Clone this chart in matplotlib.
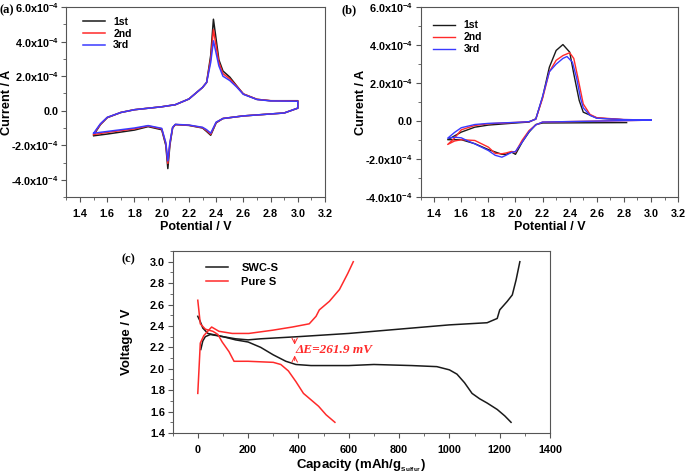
import numpy as np
import matplotlib.pyplot as plt
from matplotlib.ticker import MultipleLocator, FuncFormatter

plt.rcParams['font.family'] = ['Liberation Sans', 'DejaVu Sans']
plt.rcParams['font.weight'] = 'bold'
plt.rcParams['mathtext.fontset'] = 'custom'
plt.rcParams['mathtext.rm'] = 'Liberation Sans:bold'
plt.rcParams['mathtext.default'] = 'rm'

# (a) CV, SWC-S : a closed loop per cycle (anodic branch then cathodic branch)
a_up_v = [1.50, 1.55, 1.60, 1.70, 1.80, 2.00, 2.10, 2.20, 2.30, 2.33, 2.36, 2.38, 2.42, 2.45, 2.50, 2.55, 2.60, 2.70, 2.80, 3.00]
a_up_1 = [-1.40, -0.80, -0.40, -0.10, 0.06, 0.23, 0.35, 0.68, 1.35, 1.64, 3.20, 5.30, 2.95, 2.30, 1.95, 1.45, 0.97, 0.66, 0.58, 0.58]
a_up_2 = [-1.35, -0.78, -0.39, -0.10, 0.06, 0.23, 0.35, 0.68, 1.35, 1.64, 3.00, 4.70, 2.80, 2.15, 1.85, 1.42, 0.97, 0.66, 0.58, 0.56]
a_up_3 = [-1.30, -0.75, -0.38, -0.10, 0.06, 0.23, 0.35, 0.68, 1.35, 1.64, 2.80, 4.05, 2.60, 2.00, 1.75, 1.38, 0.95, 0.65, 0.57, 0.55]
a_dn_v = [3.00, 2.90, 2.60, 2.45, 2.40, 2.36, 2.33, 2.30, 2.20, 2.10, 2.08, 2.06, 2.045, 2.03, 2.00, 1.90, 1.80, 1.60, 1.50]
a_dn_1 = [0.15, -0.13, -0.30, -0.45, -0.70, -1.42, -1.20, -1.00, -0.85, -0.80, -1.00, -2.00, -3.35, -2.00, -1.10, -0.92, -1.12, -1.35, -1.45]
a_dn_2 = [0.15, -0.13, -0.30, -0.45, -0.68, -1.36, -1.15, -0.98, -0.84, -0.80, -0.98, -1.90, -3.05, -1.90, -1.05, -0.88, -1.05, -1.25, -1.38]
a_dn_3 = [0.15, -0.13, -0.30, -0.45, -0.66, -1.30, -1.10, -0.96, -0.83, -0.79, -0.96, -1.85, -2.90, -1.85, -1.02, -0.86, -1.00, -1.20, -1.30]

# (b) CV, pure S
b1_v = [2.82, 2.20, 2.15, 2.10, 2.05, 2.00, 1.97, 1.93, 1.90, 1.80, 1.70, 1.60, 1.50,
        1.60, 1.70, 1.80, 2.00, 2.10, 2.15, 2.20, 2.25, 2.30, 2.35, 2.40, 2.43, 2.47, 2.50, 2.60, 2.80, 3.00]
b1_i = [-0.08, -0.10, -0.18, -0.58, -1.10, -1.75, -1.63, -1.75, -1.75, -1.50, -1.19, -0.98, -0.98,
        -0.58, -0.32, -0.21, -0.10, -0.05, 0.12, 1.26, 2.84, 3.72, 4.03, 3.63, 2.49, 1.09, 0.47, 0.16, 0.07, 0.07]
b2_v = [3.00, 2.20, 2.15, 2.10, 2.05, 2.00, 1.97, 1.93, 1.90, 1.85, 1.80, 1.70, 1.60, 1.55, 1.50,
        1.55, 1.60, 1.70, 1.80, 2.00, 2.10, 2.15, 2.20, 2.25, 2.30, 2.35, 2.40, 2.43, 2.46, 2.50, 2.55, 2.60, 2.80, 3.00]
b2_i = [0.05, -0.05, -0.20, -0.50, -1.00, -1.63, -1.60, -1.68, -1.72, -1.70, -1.37, -1.02, -0.98, -1.05, -1.23,
        -0.90, -0.46, -0.23, -0.14, -0.07, -0.03, 0.10, 1.20, 2.60, 3.20, 3.45, 3.60, 3.30, 2.30, 0.90, 0.35, 0.18, 0.08, 0.06]
b3_v = [3.00, 2.20, 2.15, 2.10, 2.05, 2.00, 1.97, 1.93, 1.90, 1.85, 1.80, 1.70, 1.65, 1.60, 1.55, 1.50,
        1.55, 1.60, 1.70, 1.80, 2.00, 2.10, 2.15, 2.20, 2.25, 2.30, 2.35, 2.38, 2.42, 2.45, 2.48, 2.50, 2.55, 2.60, 2.80, 3.00]
b3_i = [0.05, -0.05, -0.20, -0.55, -1.10, -1.60, -1.65, -1.80, -1.90, -1.80, -1.55, -1.20, -1.05, -0.88, -0.85, -0.90,
        -0.60, -0.35, -0.18, -0.12, -0.07, -0.03, 0.10, 1.30, 2.60, 3.00, 3.30, 3.40, 3.10, 2.30, 1.20, 0.70, 0.30, 0.15, 0.08, 0.06]

# (c) charge / discharge profiles
swc_dis_q = [0, 10, 20, 40, 100, 150, 200, 250, 300, 350, 390, 450, 600, 700, 850, 950, 1000, 1030, 1060, 1090, 1120, 1150, 1190, 1220, 1245]
swc_dis_v = [2.49, 2.44, 2.38, 2.33, 2.30, 2.27, 2.25, 2.20, 2.13, 2.07, 2.04, 2.03, 2.03, 2.04, 2.03, 2.02, 1.99, 1.95, 1.87, 1.77, 1.72, 1.68, 1.62, 1.56, 1.50]
swc_chg_q = [12, 20, 30, 50, 100, 150, 200, 250, 400, 600, 800, 1000, 1150, 1190, 1200, 1230, 1250, 1265, 1280]
swc_chg_v = [2.18, 2.26, 2.30, 2.32, 2.30, 2.28, 2.27, 2.28, 2.30, 2.33, 2.37, 2.41, 2.43, 2.47, 2.55, 2.63, 2.69, 2.83, 3.00]
s_dis_q = [0, 10, 30, 44, 60, 80, 97, 124, 144, 200, 300, 330, 360, 390, 420, 450, 480, 510, 545]
s_dis_v = [2.64, 2.42, 2.37, 2.36, 2.35, 2.32, 2.25, 2.16, 2.07, 2.07, 2.06, 2.04, 1.98, 1.88, 1.77, 1.71, 1.65, 1.57, 1.50]
s_chg_q = [0, 10, 24, 55, 84, 137, 203, 297, 376, 443, 470, 483, 523, 563, 596, 618]
s_chg_v = [1.77, 2.24, 2.31, 2.39, 2.35, 2.33, 2.33, 2.36, 2.39, 2.42, 2.49, 2.55, 2.63, 2.74, 2.89, 3.00]

black, red, blue = '#1a1a1a', '#ff2a2a', '#3a3aff'


def cv_fmt(v, pos):
    m = v / 1e-4
    if abs(m) < 1e-9:
        return '0.0'
    return f'{m:.1f}x10$^{{-4}}$'


def style(ax, ysize=7.8):
    for s in ax.spines.values():
        s.set_color('#555555')
        s.set_linewidth(0.8)
    ax.tick_params(which='both', direction='out', color='#555555')
    ax.tick_params(which='major', length=3.5)
    ax.tick_params(which='minor', length=2)
    ax.tick_params(axis='x', labelsize=7.8, pad=5)
    ax.tick_params(axis='y', labelsize=ysize, pad=2)


def cv_axes(ax, ylo):
    ax.set_xlim(1.3, 3.2)
    ax.set_ylim(ylo, 6e-4)
    ax.xaxis.set_major_locator(MultipleLocator(0.2))
    ax.xaxis.set_minor_locator(MultipleLocator(0.1))
    ax.yaxis.set_major_locator(MultipleLocator(2e-4))
    ax.yaxis.set_minor_locator(MultipleLocator(1e-4))
    ax.yaxis.set_major_formatter(FuncFormatter(cv_fmt))
    ax.xaxis.set_major_formatter(FuncFormatter(lambda v, p: f'{v:.1f}'))
    ax.set_xlabel('Potential / V', fontsize=9, fontweight='bold')
    ax.set_ylabel('Current / A', fontsize=9.2, fontweight='bold')
    ax.xaxis.set_label_coords(0.5, -0.125)
    ax.yaxis.set_label_coords(-0.207, 0.5)
    style(ax, ysize=7.8)


fig = plt.figure(figsize=(6.85, 4.76), dpi=100)

ax1 = fig.add_axes([0.097, 0.586, 0.3775, 0.399])
ax1.plot(a_up_v + a_dn_v, np.array(a_up_1 + a_dn_1) * 1e-4, color=black, lw=1.1, label='1st')
ax1.plot(a_up_v + a_dn_v, np.array(a_up_2 + a_dn_2) * 1e-4, color=red, lw=1.1, label='2nd')
ax1.plot(a_up_v + a_dn_v, np.array(a_up_3 + a_dn_3) * 1e-4, color=blue, lw=1.1, label='3rd')
cv_axes(ax1, -5e-4)
ax1.legend(loc='upper left', frameon=False, fontsize=7.5, handlelength=2.1, labelspacing=0.18,
           borderpad=0, borderaxespad=0, bbox_to_anchor=(0.064, 0.95))

ax2 = fig.add_axes([0.614, 0.586, 0.376, 0.399])
ax2.plot(b1_v, np.array(b1_i) * 1e-4, color=black, lw=1.0, label='1st')
ax2.plot(b2_v, np.array(b2_i) * 1e-4, color=red, lw=1.0, label='2nd')
ax2.plot(b3_v, np.array(b3_i) * 1e-4, color=blue, lw=1.0, label='3rd')
cv_axes(ax2, -4e-4)
ax2.legend(loc='upper left', frameon=False, fontsize=7.5, handlelength=2.1, labelspacing=0.18,
           borderpad=0, borderaxespad=0, bbox_to_anchor=(0.049, 0.93))

ax3 = fig.add_axes([0.252, 0.0903, 0.551, 0.3824])
ax3.plot(swc_dis_q, swc_dis_v, color=black, lw=1.1, label='SWC-S')
ax3.plot(swc_chg_q, swc_chg_v, color=black, lw=1.1)
ax3.plot(s_dis_q, s_dis_v, color=red, lw=1.1, label='Pure S')
ax3.plot(s_chg_q, s_chg_v, color=red, lw=1.1)
ax3.set_xlim(-100, 1400)
ax3.set_ylim(1.4, 3.1)
ax3.xaxis.set_major_locator(MultipleLocator(200))
ax3.xaxis.set_minor_locator(MultipleLocator(100))
ax3.yaxis.set_major_locator(MultipleLocator(0.2))
ax3.yaxis.set_minor_locator(MultipleLocator(0.1))
ax3.yaxis.set_major_formatter(FuncFormatter(lambda v, p: f'{v:.1f}'))
ax3.set_xlabel('Capacity (mAh/g$_{_{\\mathrm{Sulfur}}}$)', fontsize=9.5, fontweight='bold')
ax3.set_ylabel('Voltage / V', fontsize=9.5, fontweight='bold')
ax3.xaxis.set_label_coords(0.5, -0.135)
ax3.yaxis.set_label_coords(-0.105, 0.5)
ax3.legend(loc='upper left', frameon=False, fontsize=8, handlelength=2.0, handletextpad=1.2,
           labelspacing=0.35, borderpad=0, borderaxespad=0, bbox_to_anchor=(0.088, 0.933))
ax3.annotate('', xy=(385, 2.20), xytext=(385, 2.30),
             arrowprops=dict(arrowstyle='->', color=red, lw=0.7))
ax3.annotate('', xy=(385, 2.15), xytext=(385, 2.05),
             arrowprops=dict(arrowstyle='->', color=red, lw=0.7))
ax3.text(390, 2.18, '\u0394E=261.9 mV', color=red, fontsize=9.5, fontweight='bold', style='italic',
         family=['Liberation Serif', 'DejaVu Serif'], va='center', ha='left')
style(ax3)

for lab, x, y in [('(a)', 0.0, 0.99), ('(b)', 0.498, 0.99), ('(c)', 0.178, 0.468)]:
    fig.text(x, y, lab, fontsize=9, fontweight='bold', family=['Liberation Serif', 'DejaVu Serif'], va='top')

fig.savefig('out.png', dpi=100)
